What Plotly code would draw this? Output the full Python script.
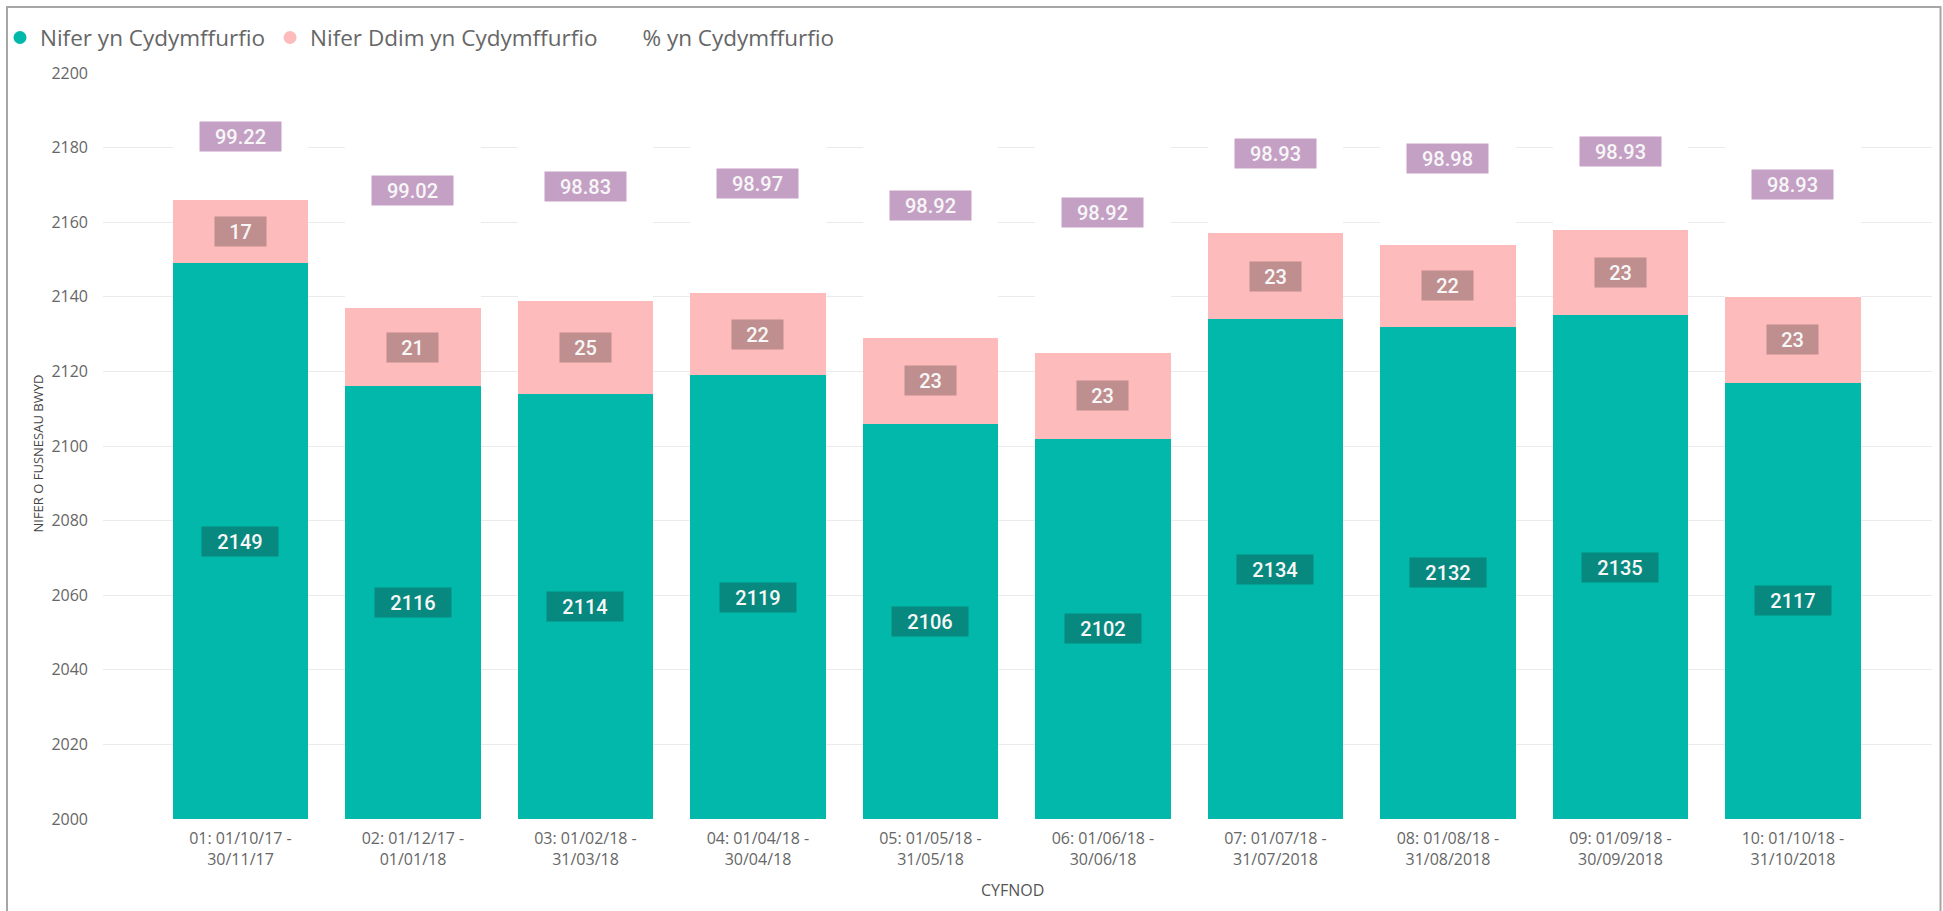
import plotly.graph_objects as go

# ---- data ----
periods = [
    "01: 01/10/17 -<br>30/11/17",
    "02: 01/12/17 -<br>01/01/18",
    "03: 01/02/18 -<br>31/03/18",
    "04: 01/04/18 -<br>30/04/18",
    "05: 01/05/18 -<br>31/05/18",
    "06: 01/06/18 -<br>30/06/18",
    "07: 01/07/18 -<br>31/07/2018",
    "08: 01/08/18 -<br>31/08/2018",
    "09: 01/09/18 -<br>30/09/2018",
    "10: 01/10/18 -<br>31/10/2018",
]
compliant = [2149, 2116, 2114, 2119, 2106, 2102, 2134, 2132, 2135, 2117]
non_compliant = [17, 21, 25, 22, 23, 23, 23, 22, 23, 23]
pct_compliant = [99.22, 99.02, 98.83, 98.97, 98.92, 98.92, 98.93, 98.98, 98.93, 98.93]

series_names = ["Nifer yn Cydymffurfio", "Nifer Ddim yn Cydymffurfio", "% yn Cydymffurfio"]
y_min, y_max, y_step = 2000, 2200, 20

# ---- styles ----
TEAL = "#01B8AA"
PINK = "#FDBBBB"
WHITE = "#FFFFFF"
TEAL_LBL = "#07897F"
PINK_LBL = "#BF8E8E"
PCT_LBL = "#C5A0C5"
GRID = "#EBEBEB"
TXT = "#666666"

fig = go.Figure()

fig.add_trace(go.Bar(x=periods, y=compliant, marker=dict(color=TEAL, line=dict(width=0)),
                     showlegend=False, hoverinfo="skip"))
fig.add_trace(go.Bar(x=periods, y=non_compliant, marker=dict(color=PINK, line=dict(width=0)),
                     showlegend=False, hoverinfo="skip"))
fig.add_trace(go.Bar(x=periods, y=pct_compliant, marker=dict(color=WHITE, line=dict(width=0)),
                     showlegend=False, hoverinfo="skip"))

# legend entries (circle markers)
for name, col in zip(series_names, [TEAL, PINK, WHITE]):
    fig.add_trace(go.Scatter(x=[None], y=[None], mode="markers", name=name,
                             marker=dict(color=col, size=13, symbol="circle")))


def box_width(text):
    w = 0
    for ch in text:
        w += 5 if ch == "." else 12.5
    return w + 20


def label(x, y, text, bg):
    fig.add_annotation(x=x, y=y, xref="x", yref="y", text=text, showarrow=False,
                       font=dict(family="Roboto", size=20, color="#F7F7F7", weight=500),
                       bgcolor=bg, borderpad=3, width=box_width(text), height=23,
                       align="center", valign="middle")


for i, p in enumerate(periods):
    c = compliant[i]
    n = non_compliant[i]
    label(p, (y_min + c) / 2, str(c), TEAL_LBL)
    label(p, c + n / 2, str(n), PINK_LBL)
    label(p, (c + n + y_max) / 2, f"{pct_compliant[i]:.2f}", PCT_LBL)

# axis titles
fig.add_annotation(text="NIFER O FUSNESAU BWYD", xref="paper", yref="paper", x=-0.0355, y=0.49,
                   xanchor="center", yanchor="middle", textangle=-90, showarrow=False,
                   font=dict(family="Open Sans", size=13, color="#444444"))
fig.add_annotation(text="CYFNOD", xref="paper", yref="paper", x=0.497, y=-0.0952,
                   xanchor="center", yanchor="middle",
                   showarrow=False, font=dict(family="Open Sans", size=16, color="#555555"))

# outer border
X0, X1, T, B = 103, 1932, 73, 819
PW, PH = X1 - X0, B - T
fig.add_shape(type="rect", xref="paper", yref="paper",
              x0=(7 - X0) / PW, x1=(1940.5 - X0) / PW,
              y0=(B - 918) / PH, y1=(B - 7) / PH,
              line=dict(color="#A6A6A6", width=2), fillcolor="rgba(0,0,0,0)", layer="above")

fig.update_layout(
    width=1943, height=911,
    margin=dict(l=X0, r=1943 - X1, t=T, b=911 - B, autoexpand=False),
    barmode="stack", bargap=0.214,
    paper_bgcolor="white", plot_bgcolor="white",
    font=dict(family="Open Sans", color=TXT),
    legend=dict(orientation="h", xref="container", yref="container", x=0.0, y=0.982,
                xanchor="left", yanchor="top", font=dict(size=22.5, color=TXT, family="Open Sans"),
                traceorder="normal", bgcolor="rgba(0,0,0,0)"),
    xaxis=dict(type="category", range=[-0.797, 9.806], showgrid=False, showline=False,
               ticks="", tickfont=dict(size=16, color=TXT), ticklabelstandoff=8),
    yaxis=dict(range=[y_min, y_max], dtick=y_step, showgrid=True, gridcolor=GRID, gridwidth=1,
               zeroline=False, showline=False, ticks="", tickfont=dict(size=16, color=TXT),
               ticklabelstandoff=14),
)

fig.write_html("out.html", config={"displayModeBar": False},
               post_script="document.body.style.margin='0';")
